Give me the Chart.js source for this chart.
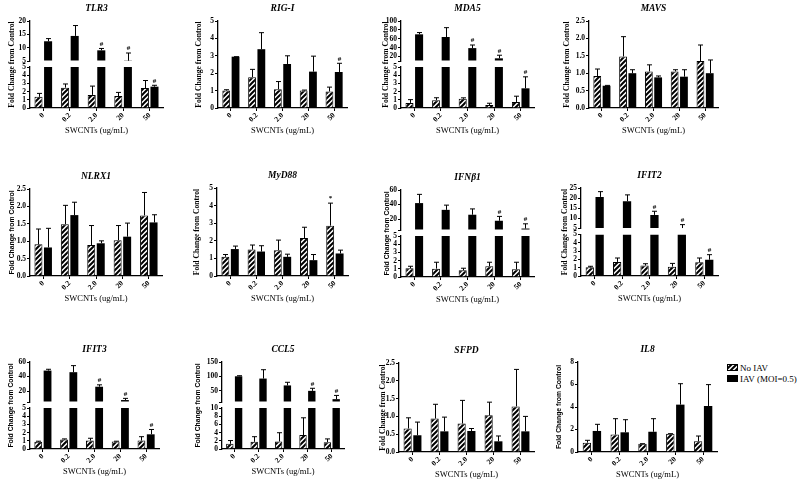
<!DOCTYPE html>
<html>
<head>
<meta charset="utf-8">
<script src="https://cdn.jsdelivr.net/npm/chart.js@4.4.1/dist/chart.umd.min.js"></script>
<style>
  html, body { margin: 0; padding: 0; background: #fff; }
  #wrap { position: relative; width: 800px; height: 482px; overflow: hidden; background: #fff; }
  #wrap canvas.panel { position: absolute; }
  .lg { position: absolute; left: 727px; height: 11px; display: flex; align-items: center;
        font: 9px "Liberation Serif", serif; color: #000; white-space: nowrap; }
  .lg canvas { margin-right: 2px; }
</style>
</head>
<body>
<div id="wrap"></div>
<script>
// Categories / series
const doses = ['0', '0.2', '2.0', '20', '50'];
const seriesNames = ['No IAV', 'IAV (MOI=0.5)'];
const xTitle = 'SWCNTs (ug/mL)';
const yTitle = 'Fold Change from Control';
const noMarks = ['', '', '', '', ''];

// TLR3
const tlr3NoIav = [1.36, 2.48, 1.6, 1.45, 2.44];
const tlr3NoIavErr = [0.42, 0.45, 1.07, 0.45, 0.91];
const tlr3Iav = [12.4, 14.4, 9.0, 5.1, 2.6];
const tlr3IavErr = [1.0, 3.9, 0.7, 2.9, 0.17];
const tlr3Marks = ['', '', '#', '#', '#'];
const tlr3TicksLow = ['0', '1', '2', '3', '4', '5'];
const tlr3TicksHigh = ['5', '10', '15', '20'];

// RIG-I
const rigNoIav = [1.0, 1.77, 1.08, 1.0, 0.95];
const rigNoIavErr = [0.05, 0.45, 0.44, 0.03, 0.25];
const rigIav = [2.95, 3.38, 2.53, 2.09, 2.07];
const rigIavErr = [0.0, 0.95, 0.47, 0.89, 0.5];
const rigMarks = ['', '', '', '', '#'];
const rigTicks = ['0', '1', '2', '3', '4', '5'];

// MDA5
const mdaNoIav = [0.62, 0.95, 1.12, 0.37, 0.74];
const mdaNoIavErr = [0.4, 0.3, 0.12, 0.21, 0.7];
const mdaIav = [70, 64, 39, 16, 2.4];
const mdaIavErr = [4, 21, 7, 7, 1.4];
const mdaMarks = ['', '', '#', '#', '#'];
const mdaTicksLow = ['0', '1', '2', '3', '4', '5'];
const mdaTicksHigh = ['20', '40', '60', '80', '100'];

// MAVS
const mavsNoIav = [0.92, 1.48, 1.05, 1.05, 1.35];
const mavsNoIavErr = [0.2, 0.57, 0.19, 0.05, 0.46];
const mavsIav = [0.64, 1.0, 0.88, 0.9, 1.0];
const mavsIavErr = [0.01, 0.1, 0.04, 0.2, 0.38];
const mavsTicks = ['0.0', '0.5', '1.0', '1.5', '2.0', '2.5'];

// NLRX1
const nlrNoIav = [0.91, 1.49, 0.89, 1.03, 1.74];
const nlrNoIavErr = [0.44, 0.54, 0.56, 0.42, 0.66];
const nlrIav = [0.82, 1.75, 0.94, 1.13, 1.54];
const nlrIavErr = [0.55, 0.37, 0.07, 0.39, 0.22];
const nlrTicks = ['0.0', '0.5', '1.0', '1.5', '2.0', '2.5'];

// MyD88
const myd88NoIav = [1.09, 1.5, 1.47, 2.16, 2.86];
const myd88NoIavErr = [0.13, 0.26, 0.57, 0.61, 1.28];
const myd88Iav = [1.53, 1.39, 1.09, 0.9, 1.28];
const myd88IavErr = [0.17, 0.33, 0.15, 0.32, 0.19];
const myd88Marks = ['', '', '', '', '*'];
const myd88Ticks = ['0', '1', '2', '3', '4', '5'];

// IFNb1
const ifnNoIav = [1.07, 1.02, 0.82, 1.31, 0.94];
const ifnNoIavErr = [0.24, 0.78, 0.25, 0.49, 0.86];
const ifnIav = [42, 32.7, 26, 17.7, 7];
const ifnIavErr = [12, 6.5, 8, 6, 6.5];
const ifnMarks = ['', '', '', '#', '#'];
const ifnTicksLow = ['0', '1', '2', '3', '4', '5'];
const ifnTicksHigh = ['20', '40', '60'];

// IFIT2
const ifit2NoIav = [1.04, 1.7, 1.26, 1.13, 1.65];
const ifit2NoIavErr = [0.13, 0.47, 0.22, 0.39, 0.52];
const ifit2Iav = [20.6, 18.5, 11.7, 5.2, 1.96];
const ifit2IavErr = [2.6, 3.1, 1.8, 1.7, 0.61];
const ifit2Marks = ['', '', '#', '#', '#'];
const ifit2TicksLow = ['0', '1', '2', '3', '4', '5'];
const ifit2TicksHigh = ['5', '10', '15', '20', '25'];

// IFIT3
const ifit3NoIav = [0.87, 1.15, 1.03, 0.91, 1.03];
const ifit3NoIavErr = [0.08, 0.08, 0.28, 0.04, 0.47];
const ifit3Iav = [48.2, 46, 26, 7.7, 1.79];
const ifit3IavErr = [1.8, 9, 2.6, 2.3, 0.59];
const ifit3Marks = ['', '', '#', '#', '#'];
const ifit3TicksLow = ['0', '1', '2', '3', '4', '5'];
const ifit3TicksHigh = ['20', '40', '60'];

// CCL5
const cclNoIav = [1.27, 1.75, 1.83, 3.41, 1.67];
const cclNoIavErr = [0.79, 1.25, 2.14, 4.2, 0.79];
const cclIav = [100, 92, 68, 49, 20];
const cclIavErr = [2, 31, 11, 9, 13];
const cclMarks = ['', '', '', '#', '#'];
const cclTicksLow = ['0', '2', '4', '6', '8', '10'];
const cclTicksHigh = ['50', '100', '150'];

// SFPD
const sfpdNoIav = [0.66, 0.94, 0.8, 1.03, 1.28];
const sfpdNoIavErr = [0.3, 0.4, 0.65, 0.37, 1.04];
const sfpdIav = [0.47, 0.58, 0.59, 0.3, 0.58];
const sfpdIavErr = [0.37, 0.4, 0.07, 0.15, 0.42];
const sfpdTicks = ['0.0', '0.5', '1.0', '1.5', '2.0', '2.5'];

// IL8
const il8NoIav = [0.83, 1.55, 0.74, 1.63, 0.95];
const il8NoIavErr = [0.21, 1.41, 0, 0, 0.47];
const il8Iav = [1.87, 1.75, 1.8, 4.21, 4.09];
const il8IavErr = [0.59, 1.12, 1.16, 1.86, 1.9];
const il8Ticks = ['0', '2', '4', '6', '8'];

const SERIF = '"Liberation Serif", "DejaVu Serif", serif';
const SANS = '"Liberation Sans", Arial, sans-serif';

// panel frame sizes (px)
const PAD_L = 12, Y_W = 20, PAD_T = 22, PAD_R = 5, X_H = 30;

// x0/x1 = axis left/right, y0/y1 = plot top/bottom, ytOff = y title distance from axis
const panels = [
    { title: 'TLR3', x0: 30, x1: 163, y0: 21, y1: 108, vals: [tlr3NoIav, tlr3Iav], errs: [tlr3NoIavErr, tlr3IavErr], marks: [noMarks, tlr3Marks], low: tlr3TicksLow, high: tlr3TicksHigh, hiMin: 5, ytOff: 18, ytSans: false },
    { title: 'RIG-I', x0: 218, x1: 347, y0: 21, y1: 108, vals: [rigNoIav, rigIav], errs: [rigNoIavErr, rigIavErr], marks: [noMarks, rigMarks], low: rigTicks, ytOff: 19, ytSans: false },
    { title: 'MDA5', x0: 401, x1: 534, y0: 21, y1: 108, vals: [mdaNoIav, mdaIav], errs: [mdaNoIavErr, mdaIavErr], marks: [noMarks, mdaMarks], low: mdaTicksLow, high: mdaTicksHigh, hiMin: 10, ytOff: 15, ytSans: false },
    { title: 'MAVS', x0: 589, x1: 718, y0: 21, y1: 108, vals: [mavsNoIav, mavsIav], errs: [mavsNoIavErr, mavsIavErr], marks: [noMarks, noMarks], low: mavsTicks, ytOff: 22, ytSans: false },

    { title: 'NLRX1', x0: 30, x1: 162, y0: 189, y1: 276, vals: [nlrNoIav, nlrIav], errs: [nlrNoIavErr, nlrIavErr], marks: [noMarks, noMarks], low: nlrTicks, ytOff: 18, ytSans: true },
    { title: 'MyD88', x0: 217, x1: 348, y0: 188, y1: 276, vals: [myd88NoIav, myd88Iav], errs: [myd88NoIavErr, myd88IavErr], marks: [myd88Marks, noMarks], low: myd88Ticks, ytOff: 20, ytSans: false },
    { title: 'IFNβ1', x0: 401, x1: 534, y0: 190, y1: 277, vals: [ifnNoIav, ifnIav], errs: [ifnNoIavErr, ifnIavErr], marks: [noMarks, ifnMarks], low: ifnTicksLow, high: ifnTicksHigh, hiMin: 5, ytOff: 14, ytSans: true },
    { title: 'IFIT2', x0: 581, x1: 718, y0: 188, y1: 276, vals: [ifit2NoIav, ifit2Iav], errs: [ifit2NoIavErr, ifit2IavErr], marks: [noMarks, ifit2Marks], low: ifit2TicksLow, high: ifit2TicksHigh, hiMin: 5, ytOff: 16, ytSans: false },

    { title: 'IFIT3', x0: 30, x1: 159, y0: 362, y1: 449, vals: [ifit3NoIav, ifit3Iav], errs: [ifit3NoIavErr, ifit3IavErr], marks: [noMarks, ifit3Marks], low: ifit3TicksLow, high: ifit3TicksHigh, hiMin: 5, ytOff: 19, ytSans: true },
    { title: 'CCL5', x0: 222, x1: 344, y0: 362, y1: 449, vals: [cclNoIav, cclIav], errs: [cclNoIavErr, cclIavErr], marks: [noMarks, cclMarks], low: cclTicksLow, high: cclTicksHigh, hiMin: 10, ytOff: 24, ytSans: true },
    { title: 'SFPD', x0: 399, x1: 534, y0: 363, y1: 452, vals: [sfpdNoIav, sfpdIav], errs: [sfpdNoIavErr, sfpdIavErr], marks: [noMarks, noMarks], low: sfpdTicks, ytOff: 16, ytSans: false },
    { title: 'IL8', x0: 578, x1: 717, y0: 362, y1: 452, vals: [il8NoIav, il8Iav], errs: [il8NoIavErr, il8IavErr], marks: [noMarks, noMarks], low: il8Ticks, ytOff: 19, ytSans: true }
];

const wrap = document.getElementById('wrap');

// diagonal hatch tile for the "No IAV" bars
function hatchTile() {
    const c = document.createElement('canvas');
    c.width = 5; c.height = 5;
    const g = c.getContext('2d');
    g.fillStyle = '#fff';
    g.fillRect(0, 0, 5, 5);
    g.strokeStyle = '#000';
    g.lineWidth = 2;
    g.beginPath();
    g.moveTo(0, 5); g.lineTo(5, 0);
    g.moveTo(-1, 1); g.lineTo(1, -1);
    g.moveTo(4, 6); g.lineTo(6, 4);
    g.stroke();
    return c;
}

function yScale(tickStrs, labelStrs, stackWeight, weight) {
    const vals = [...new Set(tickStrs.map(Number))].sort((a, b) => a - b);
    const labelVals = labelStrs.map(Number);
    return {
        type: 'linear',
        position: 'left',
        stacked: false,
        stack: 'v',
        stackWeight: stackWeight,
        weight: weight,
        min: vals[0],
        max: vals[vals.length - 1],
        afterFit: sc => { sc.width = Y_W; },
        afterBuildTicks: sc => { sc.ticks = vals.map(v => ({ value: v })); },
        grid: { display: true, drawOnChartArea: false, drawTicks: true, tickLength: 3, color: '#000', lineWidth: 1 },
        border: { display: true, color: '#000', width: 1.3 },
        ticks: {
            color: '#000',
            font: { family: SERIF, size: 7.5, weight: 'bold' },
            padding: 1,
            autoSkip: false,
            callback: v => {
                const i = labelVals.indexOf(v);
                return i >= 0 ? labelStrs[i] : '';
            }
        }
    };
}

function buildPanel(p) {
    const canvas = document.createElement('canvas');
    const left = p.x0 - PAD_L - Y_W;
    const top = p.y0 - PAD_T;
    const w = p.x1 + PAD_R - left;
    const h = p.y1 + X_H - top;
    canvas.width = w;
    canvas.height = h;
    canvas.className = 'panel';
    canvas.style.left = left + 'px';
    canvas.style.top = top + 'px';
    canvas.style.width = w + 'px';
    canvas.style.height = h + 'px';
    wrap.appendChild(canvas);

    const ctx = canvas.getContext('2d');
    const hatch = ctx.createPattern(hatchTile(), 'repeat');
    const broken = !!p.high;
    const lowMax = Math.max(...p.low.map(Number));

    const datasets = [];
    p.vals.forEach((vals, s) => {
        const style = {
            label: seriesNames[s],
            stack: 'g' + s,
            backgroundColor: s ? '#000' : hatch,
            borderColor: '#000',
            borderWidth: s ? 0 : 1,
            categoryPercentage: 0.72,
            barPercentage: 0.84
        };
        datasets.push({ ...style, yAxisID: 'y', data: vals.map(v => Math.min(v, lowMax)) });
        if (broken) {
            datasets.push({ ...style, yAxisID: 'yHi', base: p.hiMin, data: vals.map(v => v > lowMax ? v : null) });
        }
    });

    const scales = {
        x: {
            type: 'category',
            stacked: true,
            offset: true,
            afterFit: sc => { sc.height = X_H; },
            grid: { display: true, drawOnChartArea: false, drawTicks: true, tickLength: 3, offset: false, color: '#000' },
            border: { display: true, color: '#000', width: 1.3 },
            ticks: { color: '#000', font: { family: SERIF, size: 7.5, weight: 'bold' }, minRotation: 45, maxRotation: 45, autoSkip: false, padding: 0 }
        },
        y: yScale(p.low, p.low, broken ? 41 : 1, 0)
    };
    if (broken) {
        // empty scale that only makes the gap of the broken axis
        scales.yGap = { type: 'linear', display: false, position: 'left', stack: 'v', stackWeight: 6, weight: 1, afterFit: sc => { sc.width = Y_W; } };
        scales.yHi = yScale([String(p.hiMin), ...p.high], p.high, 40, 2);
    }

    const overlay = {
        id: 'panelOverlay',
        afterDatasetsDraw(chart) {
            const c = chart.ctx;
            c.save();
            c.strokeStyle = '#000';
            c.fillStyle = '#000';
            c.lineWidth = 1;
            c.textAlign = 'center';
            c.textBaseline = 'bottom';
            c.font = `bold 7px ${SERIF}`;
            p.vals.forEach((vals, s) => {
                const meta = chart.getDatasetMeta(broken ? s * 2 : s);
                vals.forEach((v, i) => {
                    const bar = meta.data[i];
                    const sc = (broken && v > lowMax) ? chart.scales.yHi : chart.scales.y;
                    const yTop = sc.getPixelForValue(v);
                    const yErr = sc.getPixelForValue(v + p.errs[s][i]);
                    const x = Math.round(bar.x) + 0.5;
                    c.beginPath();
                    c.moveTo(x, yTop);
                    c.lineTo(x, yErr);
                    c.moveTo(x - 2.5, yErr);
                    c.lineTo(x + 2.5, yErr);
                    c.stroke();
                    const m = p.marks[s][i];
                    if (m) c.fillText(m, x, yErr - 1);
                });
            });
            c.restore();
        },
        afterDraw(chart) {
            const c = chart.ctx;
            const ca = chart.chartArea;
            const cx = (ca.left + ca.right) / 2;
            c.save();
            c.fillStyle = '#000';
            c.textAlign = 'center';
            c.textBaseline = 'middle';
            c.font = `italic bold 9.5px ${SERIF}`;
            c.fillText(p.title, cx, ca.top - 12);
            c.font = `8.5px ${SERIF}`;
            c.fillText(xTitle, cx, ca.bottom + 23);
            c.translate(ca.left - p.ytOff, (ca.top + ca.bottom) / 2);
            c.rotate(-Math.PI / 2);
            c.font = p.ytSans ? `bold 6.8px ${SANS}` : `bold 7.6px ${SERIF}`;
            c.fillText(yTitle, 0, 0);
            c.restore();
        }
    };

    new Chart(ctx, {
        type: 'bar',
        data: { labels: doses, datasets: datasets },
        options: {
            responsive: false,
            animation: false,
            layout: { padding: { left: PAD_L, top: PAD_T, right: PAD_R, bottom: 0 } },
            scales: scales,
            plugins: { legend: { display: false }, tooltip: { enabled: false }, title: { display: false } }
        },
        plugins: [overlay]
    });
}

panels.forEach(buildPanel);

// Legend
function legendRow(y, s) {
    const row = document.createElement('div');
    row.className = 'lg';
    row.style.top = y + 'px';
    const sw = document.createElement('canvas');
    sw.width = 11;
    sw.height = 7;
    const g = sw.getContext('2d');
    g.fillStyle = s ? '#000' : g.createPattern(hatchTile(), 'repeat');
    g.fillRect(0, 0, 11, 7);
    g.strokeStyle = '#000';
    g.lineWidth = 1;
    g.strokeRect(0.5, 0.5, 10, 6);
    row.appendChild(sw);
    const span = document.createElement('span');
    span.textContent = seriesNames[s];
    row.appendChild(span);
    wrap.appendChild(row);
}
legendRow(362, 0);
legendRow(373, 1);
</script>
</body>
</html>
